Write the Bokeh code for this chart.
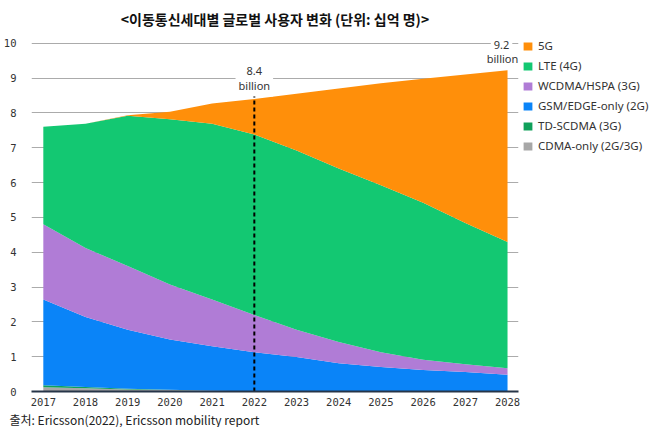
from bokeh.plotting import figure
from bokeh.models import (ColumnDataSource, Range1d, FixedTicker, Legend, LegendItem,
                          Label, Title)
from bokeh.embed import file_html
from bokeh.resources import INLINE

# Global mobile subscriptions by technology, billions (Ericsson 2022)
years = [2017, 2018, 2019, 2020, 2021, 2022, 2023, 2024, 2025, 2026, 2027, 2028]
cdma = [0.12, 0.09, 0.06, 0.04, 0.02, 0.01, 0, 0, 0, 0, 0, 0]
td_scdma = [0.06, 0.04, 0.02, 0.01, 0.0, 0, 0, 0, 0, 0, 0, 0]
gsm = [2.46, 2.01, 1.69, 1.44, 1.28, 1.12, 0.99, 0.81, 0.70, 0.62, 0.56, 0.48]
wcdma = [2.16, 1.98, 1.83, 1.58, 1.34, 1.07, 0.78, 0.61, 0.43, 0.29, 0.22, 0.19]
lte = [2.80, 3.57, 4.32, 4.75, 5.05, 5.18, 5.15, 4.98, 4.79, 4.51, 4.06, 3.62]
g5 = [0, 0, 0.01, 0.21, 0.58, 1.02, 1.63, 2.30, 2.93, 3.56, 4.26, 4.93]

series = ["cdma", "td", "gsm", "wcdma", "lte", "g5"]
labels = ["CDMA-only (2G/3G)", "TD-SCDMA (3G)", "GSM/EDGE-only (2G)",
          "WCDMA/HSPA (3G)", "LTE (4G)", "5G"]
colors = ["#A7A7A7", "#10A05A", "#0A84F8", "#B07CD6", "#13C872", "#FF8F0A"]

source = ColumnDataSource(data=dict(year=years, cdma=cdma, td=td_scdma, gsm=gsm,
                                    wcdma=wcdma, lte=lte, g5=g5))
totals = [sum(v) for v in zip(cdma, td_scdma, gsm, wcdma, lte, g5)]

p = figure(frame_width=487, frame_height=357, output_backend="svg",
           toolbar_location=None, x_range=Range1d(2016.72, 2028.26),
           y_range=Range1d(0, 10.25), min_border_left=24, min_border_top=0,
           min_border_bottom=0, min_border_right=0)
p.outline_line_color = None

p.title.text = "<이동통신세대별 글로벌 사용자 변화 (단위: 십억 명)>"
p.title.align = "center"
p.title.text_font = "Noto Sans CJK KR"
p.title.text_font_size = "14px"
p.title.text_font_style = "bold"
p.title.text_color = "#111111"
p.title.standoff = 12

renderers = p.varea_stack(stackers=series, x="year", color=colors, source=source)

# dashed marker at 2022
i22 = years.index(2022)
p.segment(x0=[years[i22]], y0=[0], x1=[years[i22]], y1=[totals[i22] + 0.16],
          line_color="black", line_width=2, line_dash="4 3")


def note(x, y, text, dx, dy, bg):
    p.add_layout(Label(x=x, y=y, text=text, text_align="center", text_baseline="middle",
                       x_offset=dx, y_offset=dy, text_font="Noto Sans",
                       text_font_size="11px", text_color="#333333",
                       background_fill_color="white" if bg else None, padding=3))


# later labels are drawn over the white box of the earlier ones
note(years[i22], totals[i22], "billion", 0, 13, True)
note(years[i22], totals[i22], "8.4", 0, 28, False)
note(years[-1], totals[-1], "9.2", -6, 25, True)
note(years[-1], totals[-1], "billion", -5, 12, False)

# axes
p.xgrid.grid_line_color = None
p.ygrid.grid_line_color = "#ABABAB"
p.ygrid.grid_line_width = 1
p.xaxis.ticker = FixedTicker(ticks=years)
p.yaxis.ticker = FixedTicker(ticks=list(range(0, 11)))
for ax in (p.xaxis, p.yaxis):
    ax.major_tick_line_color = None
    ax.minor_tick_line_color = None
    ax.major_label_text_font = "DejaVu Sans Mono"
    ax.major_label_text_font_size = "10.5px"
    ax.major_label_text_color = "#333333"
p.yaxis.axis_line_color = None
p.yaxis.major_label_standoff = 9
p.xaxis.axis_line_color = "#263548"
p.xaxis.axis_line_width = 2
p.xaxis.major_label_standoff = 0

legend = Legend(items=[LegendItem(label=labels[k], renderers=[renderers[k]])
                       for k in range(len(series) - 1, -1, -1)],
                location="top_left", margin=4, padding=3, spacing=5,
                glyph_width=11, glyph_height=10, label_standoff=5,
                label_text_font="Noto Sans", label_text_font_size="11.5px",
                label_text_color="#333333", border_line_color=None,
                background_fill_alpha=0, label_height=12)
p.add_layout(legend, "right")

src = Title(text="출처: Ericsson(2022), Ericsson mobility report", align="left",
            offset=-22, text_font="Noto Sans CJK KR", text_font_size="12px",
            text_font_style="normal", text_color="#222222", standoff=0)
p.add_layout(src, "below")

open("out.html", "w").write(file_html(p, INLINE))
